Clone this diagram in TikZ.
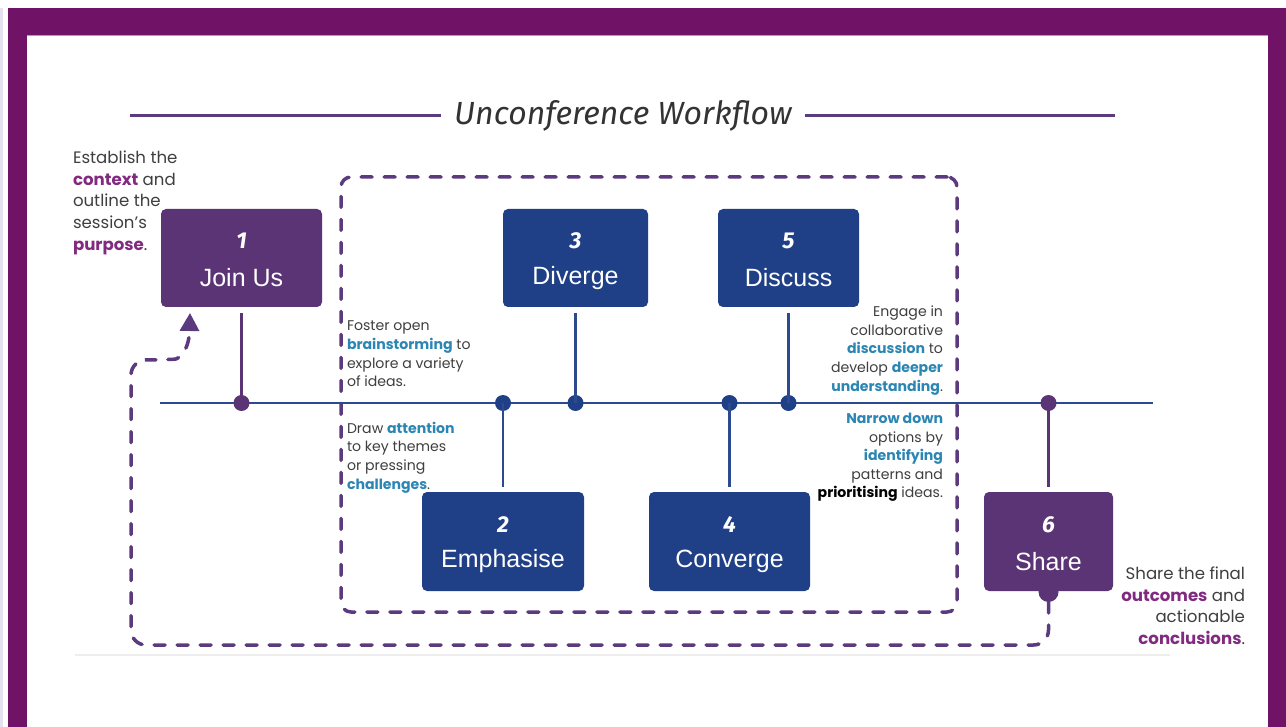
\documentclass[tikz,border=0pt]{standalone}
\usepackage{fontspec}
\setmainfont{Poppins}
\newfontfamily\labelfont{Liberation Sans}
\newfontfamily\handfont{Fira Sans}
\usetikzlibrary{arrows.meta}

\definecolor{framepurple}{HTML}{701265}
\definecolor{boxpurple}{HTML}{5B3475}
\definecolor{boxblue}{HTML}{1F3F87}
\definecolor{lineblue}{HTML}{2C4A8E}
\definecolor{dashpurple}{HTML}{5C3A7E}
\definecolor{txtgray}{HTML}{3F3F3F}
\definecolor{txtpurple}{HTML}{812A80}
\definecolor{txtblue}{HTML}{2C86B4}
\definecolor{titlegray}{HTML}{333333}
\definecolor{edgelav}{HTML}{E4E2EE}
\definecolor{rulegray}{HTML}{EEEEEE}

\newcommand{\kp}[1]{\textbf{\color{txtpurple}#1}}
\newcommand{\kb}[1]{\textbf{\color{txtblue}#1}}
\newcommand{\kk}[1]{\textbf{\color{black}#1}}

\begin{document}
\begin{tikzpicture}[x=1pt,y=-1pt,
  every node/.style={inner sep=0pt, outer sep=0pt},
  card/.style={rounded corners=5pt, minimum height=98pt, fill=#1},
  cardnum/.style={text=white, font=\handfont\itshape\bfseries\fontsize{23}{23}\selectfont},
  cardlabel/.style={text=white, font=\labelfont\fontsize{25}{25}\selectfont},
  dot/.style={circle, minimum size=16pt, fill=#1},
  stem/.style={line width=2.5pt, draw=#1},
  bignote/.style={text=txtgray, font=\fontsize{16.6}{21.6}\selectfont},
  smallnote/.style={text=txtgray, font=\fontsize{14.1}{18.6}\selectfont},
  dashline/.style={draw=dashpurple, line width=3.5pt, line cap=round,
    dash pattern=on 11pt off 12pt},
  titlerule/.style={draw=dashpurple, line width=3pt}
]
\useasboundingbox (0,0) rectangle (1286,727);

% page frame
\fill[white] (0,0) rectangle (1286,727);
\fill[edgelav] (0,8) rectangle (3,727);
\fill[framepurple] (8,8) rectangle (1286,727);
\fill[white] (27,35) rectangle (1268,727);
\draw[draw=framepurple!45, line width=1pt] (27,35.5) -- (1268,35.5);
\draw[draw=rulegray, line width=1.5pt] (75,655) -- (1170,655);

% title with side rules
\node[inner xsep=13pt, text=titlegray,
      font=\handfont\itshape\fontsize{32}{32}\selectfont] (title) at (623,116) {Unconference Workflow};
\coordinate (ruleL) at (130,116);
\coordinate (ruleR) at (1115,116);
\draw[titlerule] (ruleL) -- (title.west);
\draw[titlerule] (title.east) -- (ruleR);

% dashed stage frame around steps 2-5
\node[draw=dashpurple, line width=3.5pt, line cap=round, dash pattern=on 11pt off 12pt,
      rounded corners=10pt, minimum width=616pt, minimum height=435pt] (stage) at (649,394.5) {};

% timeline
\coordinate (tlL) at (160,403);
\coordinate (tlR) at (1153,403);
\draw[line width=2.5pt, draw=lineblue] (tlL) -- (tlR);

% step cards
\node[circle, fill=boxpurple, minimum size=20pt] (tab) at (1048.5,592) {};
\node[card=boxpurple, minimum width=161pt] (join) at (241.5,258) {};
\node[card=boxblue, minimum width=145pt] (diverge) at (575.5,258) {};
\node[card=boxblue, minimum width=141pt] (discuss) at (788.5,258) {};
\node[card=boxblue, minimum width=162pt, minimum height=99pt] (emph) at (503,541.5) {};
\node[card=boxblue, minimum width=161pt, minimum height=99pt] (conv) at (729.5,541.5) {};
\node[card=boxpurple, minimum width=129pt, minimum height=99pt] (share) at (1048.5,541.5) {};

\node[cardnum] (n1) at ([yshift=17pt]join.center) {1};
\node[cardlabel] (l1) at ([yshift=-20pt]join.center) {Join Us};
\node[cardnum] (n3) at ([yshift=17pt]diverge.center) {3};
\node[cardlabel] (l3) at ([yshift=-20pt]diverge.center) {Diverge};
\node[cardnum] (n5) at ([yshift=17pt]discuss.center) {5};
\node[cardlabel] (l5) at ([yshift=-20pt]discuss.center) {Discuss};
\node[cardnum] (n2) at ([yshift=17pt]emph.center) {2};
\node[cardlabel] (l2) at ([yshift=-20pt]emph.center) {Emphasise};
\node[cardnum] (n4) at ([yshift=17pt]conv.center) {4};
\node[cardlabel] (l4) at ([yshift=-20pt]conv.center) {Converge};
\node[cardnum] (n6) at ([yshift=17pt]share.center) {6};
\node[cardlabel] (l6) at ([yshift=-20pt]share.center) {Share};

% timeline dots and stems
\node[dot=boxpurple] (d1) at (241.5,403) {};
\node[dot=boxblue] (d2) at (503,403) {};
\node[dot=boxblue] (d3) at (575.5,403) {};
\node[dot=boxblue] (d4) at (729.5,403) {};
\node[dot=boxblue] (d5) at (788.5,403) {};
\node[dot=boxpurple] (d6) at (1048.5,403) {};

\draw[stem=boxpurple] ([yshift=-6pt]join.south) -- (d1.center);
\draw[stem=lineblue] ([yshift=-6pt]diverge.south) -- (d3.center);
\draw[stem=lineblue] ([yshift=-6pt]discuss.south) -- (d5.center);
\draw[stem=lineblue] (d2.center) -- ([yshift=5pt]emph.north);
\draw[stem=lineblue] (d4.center) -- ([yshift=5pt]conv.north);
\draw[stem=boxpurple] (d6.center) -- ([yshift=5pt]share.north);

% return loop from Share back to Join Us
\coordinate (ret) at (190,313);
\draw[dashline, rounded corners=15pt, -{Triangle[length=18pt,width=19pt]}]
  (tab.south) |- (131,645) |- (160,360)
  .. controls (178,359) and (189,352) .. (ret);

% annotations
\node[bignote, align=left, anchor=north west] (noteJoin) at (73,151)
  {Establish the\\ \kp{context} and\\ outline the\\ session’s\\ \kp{purpose}.};
\node[smallnote, align=left, anchor=north west] (noteDiverge) at (347,321)
  {Foster open\\ \kb{brainstorming} to\\ explore a variety\\ of ideas.};
\node[smallnote, align=left, anchor=north west] (noteEmph) at (347,422)
  {Draw \kb{attention}\\ to key themes\\ or pressing\\ \kb{challenges}.};
\node[smallnote, align=right, anchor=north east] (noteDiscuss) at (943,306)
  {Engage in\\ collaborative\\ \kb{discussion} to\\ develop \kb{deeper}\\ \kb{understanding}.};
\node[smallnote, align=right, anchor=north east] (noteConv) at (943,413)
  {\kb{Narrow down}\\ options by\\ \kb{identifying}\\ patterns and\\ \kk{prioritising} ideas.};
\node[bignote, align=right, anchor=north east] (noteShare) at (1245,567)
  {Share the final\\ \kp{outcomes} and\\ actionable\\ \kp{conclusions}.};
\end{tikzpicture}
\end{document}
